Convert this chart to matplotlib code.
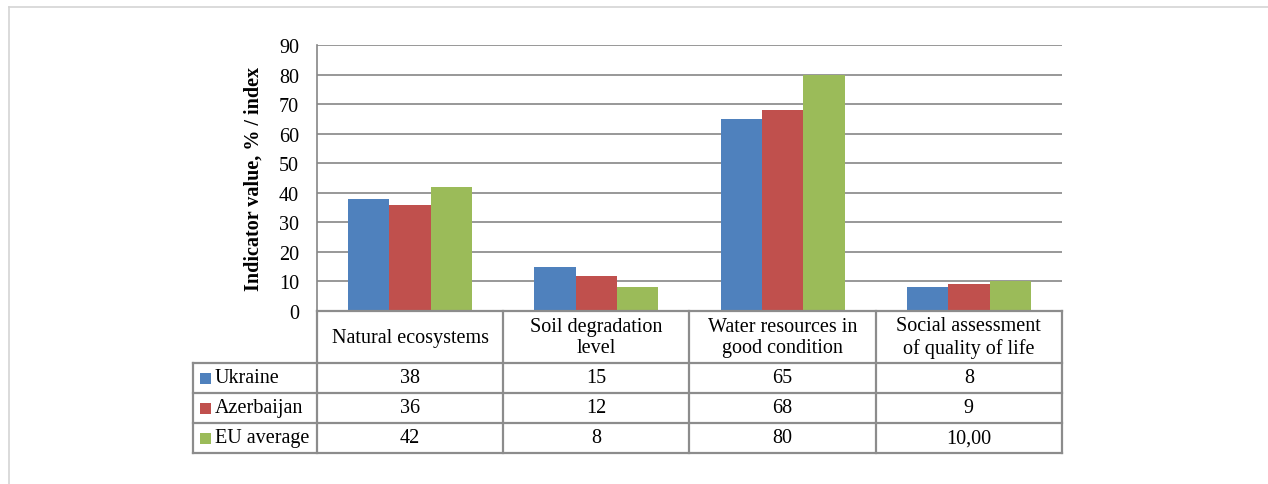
import matplotlib
matplotlib.use("Agg")
import matplotlib.pyplot as plt
from matplotlib.lines import Line2D
from matplotlib.patches import Rectangle

# ---- data ----
categories = ["Natural ecosystems", "Soil degradation\nlevel",
              "Water resources in\ngood condition", "Social assessment\nof quality of life"]
series_names = ["Ukraine", "Azerbaijan", "EU average"]
ukraine = [38, 15, 65, 8]
azerbaijan = [36, 12, 68, 9]
eu_average = [42, 8, 80, 10]
eu_average_text = ["42", "8", "80", "10,00"]
y_ticks = [0, 10, 20, 30, 40, 50, 60, 70, 80, 90]
y_label = "Indicator value, % / index"

series = [ukraine, azerbaijan, eu_average]
series_text = [[str(v) for v in ukraine], [str(v) for v in azerbaijan], eu_average_text]
colors = ["#4F81BD", "#C0504D", "#9BBB59"]
grid_col = "#868686"
border_col = "#8C8C8C"

plt.rcParams["font.family"] = ["Liberation Serif", "DejaVu Serif"]
FS = 14.5

W, H = 1268, 485
fig = plt.figure(figsize=(W / 100, H / 100), dpi=100)


def px_axes(x0, y0, x1, y1):
    return fig.add_axes([x0 / W, 1 - y1 / H, (x1 - x0) / W, (y1 - y0) / H])


# outer frame of the chart object
fig.add_artist(Line2D([9 / W, 9 / W], [0, 1 - 8 / H], transform=fig.transFigure,
                      color="#D4D4D4", lw=1.2))
fig.add_artist(Line2D([9 / W, 1], [1 - 8 / H, 1 - 8 / H], transform=fig.transFigure,
                      color="#D4D4D4", lw=1.2))

# ---- bar chart ----
ax = px_axes(317, 46, 1062, 312)
n = len(categories)
bw = 0.222
for k, (vals, col) in enumerate(zip(series, colors)):
    xs = [i + (k - 1) * bw for i in range(n)]
    ax.bar(xs, vals, width=bw, color=col, edgecolor="none", zorder=3)

ax.set_xlim(-0.5, n - 0.5)
ax.set_ylim(0, 90)
ax.set_yticks(y_ticks)
ax.set_xticks([])
ax.yaxis.grid(True, color=grid_col, lw=1.2, zorder=0)
ax.set_axisbelow(True)
for s in ["top", "right", "bottom"]:
    ax.spines[s].set_visible(False)
ax.spines["left"].set_color(grid_col)
ax.spines["left"].set_linewidth(1.2)
ax.tick_params(axis="y", length=0, pad=13, labelsize=FS)
ax.set_ylabel(y_label, fontsize=FS, fontweight="bold", labelpad=11)

# ---- data table beneath the plot ----
col_px = 186.25
legend_w = 124 / col_px
x_left = -0.5 - legend_w
tax = px_axes(193, 312, 1062, 454)
tax.set_xlim(x_left, n - 0.5)
tax.set_ylim(142, 0)
tax.axis("off")

hdr_h = 52
row_h = 30
lw_t = 1.6
line_kw = dict(color=border_col, lw=lw_t, solid_capstyle="projecting", clip_on=False)

# horizontal rules
tax.plot([-0.5, n - 0.5], [0, 0], **line_kw)
for r in range(len(series) + 1):
    y = hdr_h + r * row_h
    tax.plot([x_left, n - 0.5], [y, y], **line_kw)
# vertical rules
tax.plot([x_left, x_left], [hdr_h, hdr_h + len(series) * row_h], **line_kw)
for i in range(n + 1):
    x = i - 0.5
    tax.plot([x, x], [0, hdr_h + len(series) * row_h], **line_kw)

# category headers
for i, cat in enumerate(categories):
    tax.text(i, hdr_h / 2, cat, ha="center", va="center", fontsize=FS,
             linespacing=1.2)

# series rows
for r, (name, col, texts) in enumerate(zip(series_names, colors, series_text)):
    yc = hdr_h + r * row_h + row_h / 2
    sq = 11
    tax.add_patch(Rectangle((x_left + 7 / col_px, yc - sq / 2), sq / col_px, sq,
                            facecolor=col, edgecolor="none", clip_on=False))
    tax.text(x_left + 22 / col_px, yc, name, ha="left", va="center", fontsize=FS)
    for i, t in enumerate(texts):
        tax.text(i, yc, t, ha="center", va="center", fontsize=FS)

fig.savefig("out.png", dpi=100)
